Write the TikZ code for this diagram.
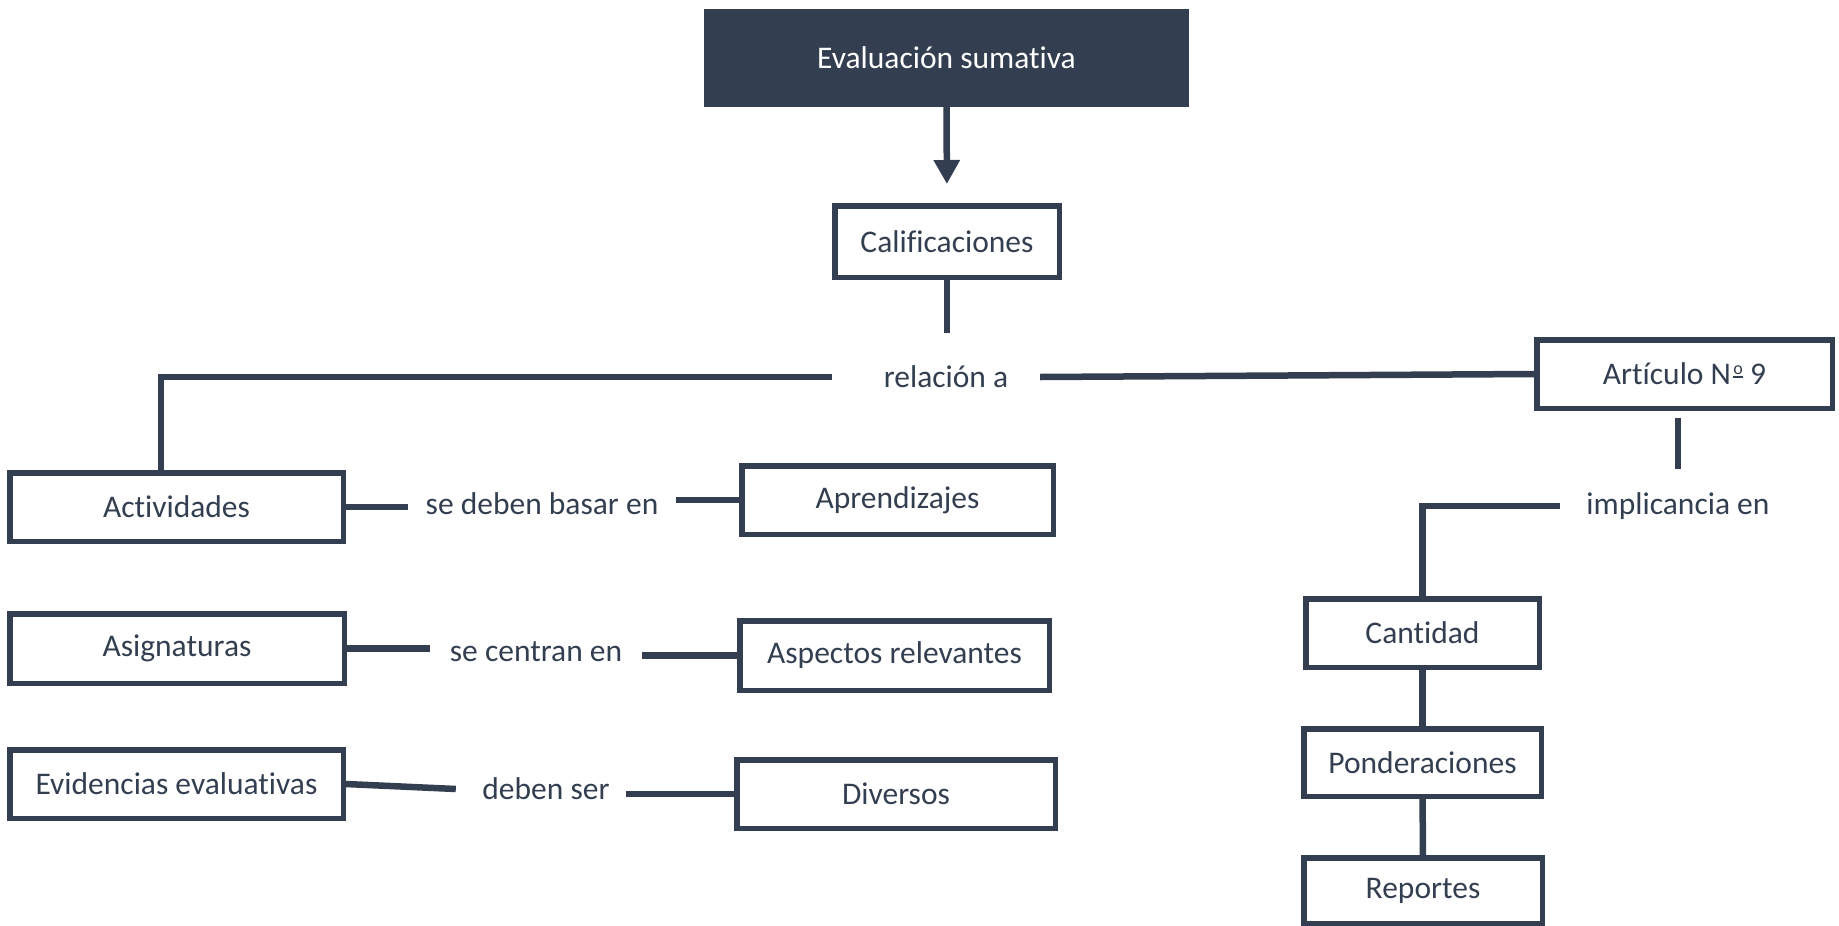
\documentclass[tikz,border=0pt]{standalone}
\usepackage{fontspec}
\setmainfont{Carlito}[Ligatures={NoCommon}]
\usepackage{tikz}
\usetikzlibrary{arrows.meta}
\definecolor{slate}{HTML}{333F50}
\newcommand{\numero}{N\kern2pt\rlap{\rule[7pt]{10pt}{2pt}}\makebox[10pt]{\raisebox{10.5pt}{\fontsize{18}{18}\selectfont o}}}

\begin{document}
\begin{tikzpicture}[x=1pt,y=-1pt,
        font=\fontsize{31.5}{38}\selectfont,
        box/.style={draw=slate,line width=5.5pt,text=slate,inner sep=0pt},
        lbl/.style={text=slate,inner sep=0pt},
        link/.style={draw=slate,line width=6.5pt}]
        \useasboundingbox (0,0) rectangle (1839,926);

        % Top
        \node[fill=slate,text=white,inner sep=0pt,minimum width=485pt,minimum height=98pt] (eval) at (946.5,58) {Evaluación sumativa};
        \node[box,minimum width=224.5pt,minimum height=71.5pt] (calif) at (947,241.5) {Calificaciones};
        \node[lbl,minimum width=208pt,minimum height=88pt] (rel) at (936,377) {\hspace*{20pt}relación a};
        \coordinate (actin) at (161,470);

        % Left rows
        \node[box,minimum width=333.5pt,minimum height=68.5pt] (act) at (176.5,507) {Actividades};
        \node[lbl,minimum width=268pt] (basar) at (542,504) {se deben basar en};
        \node[box,minimum width=311.5pt,minimum height=68.5pt] (apr) at (897.5,500) {Aprendizajes};

        \node[box,minimum width=334.5pt,minimum height=69.5pt] (asig) at (177,648.5) {Asignaturas};
        \node[lbl,minimum width=212pt] (centran) at (536,652) {se centran en};
        \node[box,minimum width=309.5pt,minimum height=69.5pt] (asp) at (894.5,655.5) {Aspectos relevantes};

        \node[box,minimum width=333.5pt,minimum height=68.5pt] (evid) at (176.5,784) {Evidencias evaluativas};
        \node[lbl,minimum width=170pt] (deben) at (541,789) {\hspace*{10pt}deben ser};
        \node[box,minimum width=318.5pt,minimum height=68.5pt] (div) at (896,794) {Diversos};

        % Right column
        \node[box,minimum width=295.5pt,minimum height=68.5pt] (art) at (1684.5,374) {Artículo \numero\ 9};
        \node[lbl,inner xsep=26pt,minimum height=74pt] (impl) at (1678,506) {implicancia en};
        \node[box,minimum width=233.5pt,minimum height=68.5pt] (cant) at (1422.5,633) {Cantidad};
        \node[box,minimum width=237.5pt,minimum height=67.5pt] (pond) at (1422.5,762.5) {Ponderaciones};
        \node[box,minimum width=238.5pt,minimum height=65.5pt] (rep) at (1423,890.5) {Reportes};

        % Connectors
        \draw[link,-{Triangle[length=24pt,width=25pt]},shorten >=19pt] (eval.south) -- (calif.north);
        \draw[link] (calif.south) -- (calif.south |- rel.north);
        \draw[link] (rel.west) -| (actin);
        \draw[link] (rel.east) -- (art.west);

        \draw[link] (act.east) -- (act.east -| basar.west);
        \draw[link] (basar.east |- apr.west) -- (apr.west);
        \draw[link] (asig.east) -- (asig.east -| centran.west);
        \draw[link] (centran.east |- asp.west) -- (asp.west);
        \draw[link] (evid.east) -- (deben.west);
        \draw[link] (deben.east |- div.west) -- (div.west);

        \draw[link,shorten <=7pt] (art.south -| impl.north) -- (impl.north);
        \draw[link] (impl.west) -| (cant.north);
        \draw[link] (cant) -- (pond);
        \draw[link] (pond) -- (rep);
\end{tikzpicture}
\end{document}
